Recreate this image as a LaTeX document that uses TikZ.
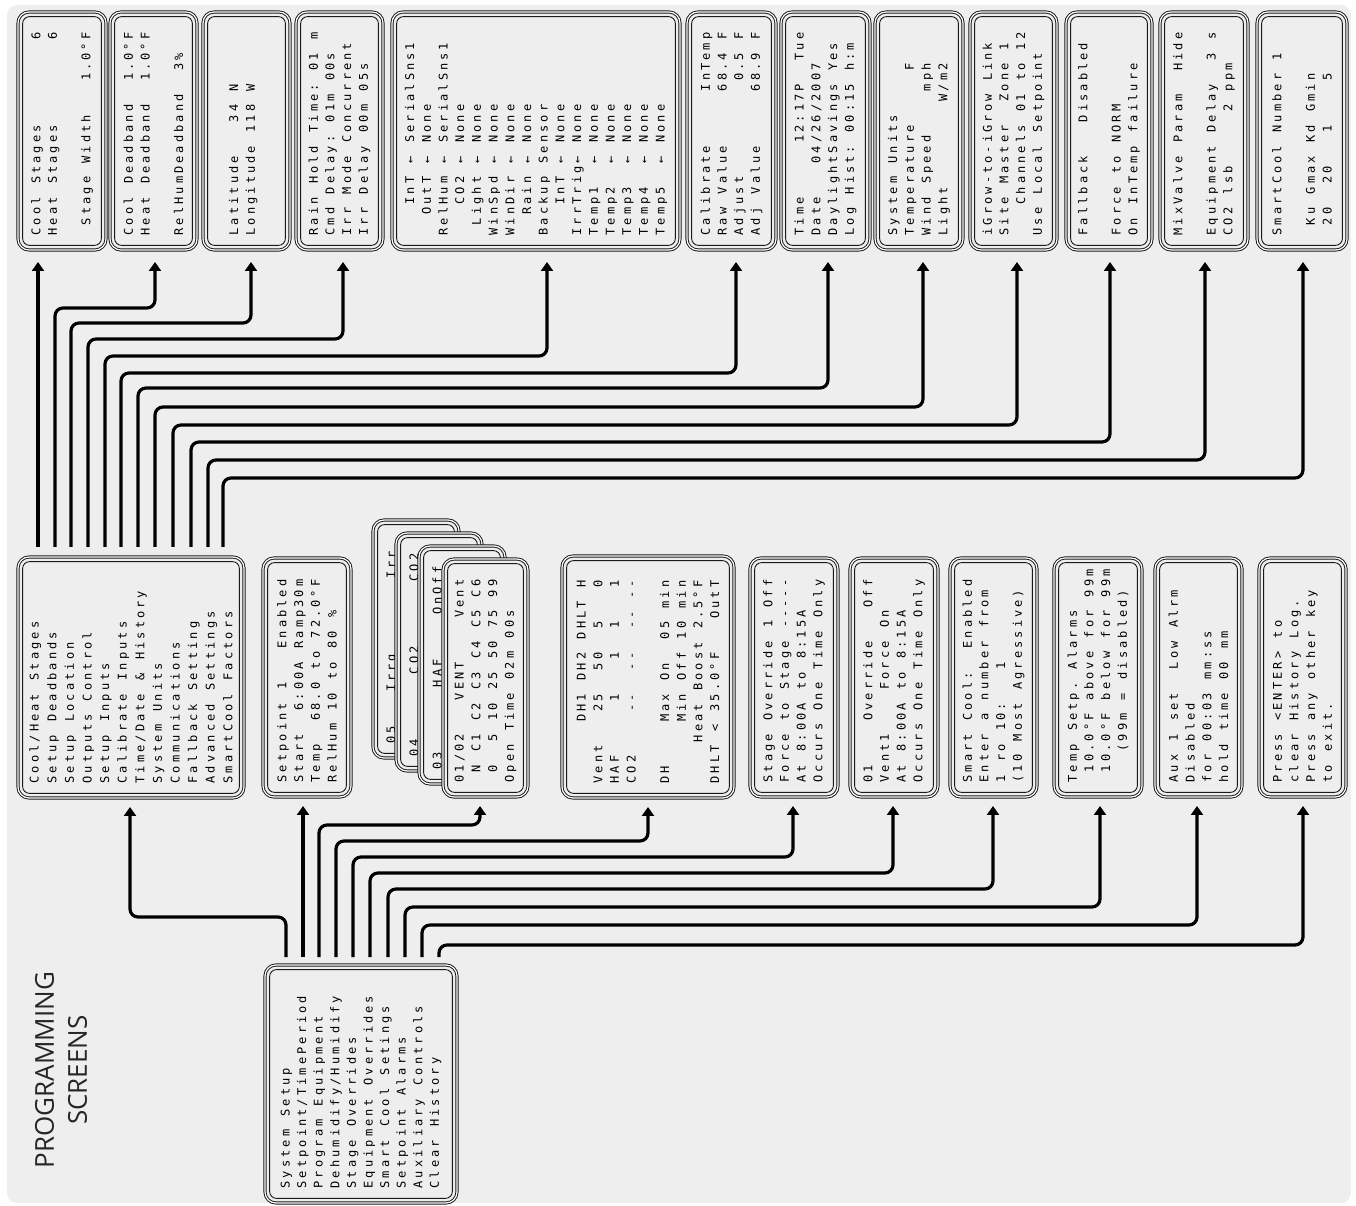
\documentclass[tikz,border=0pt]{standalone}
\usepackage{fontspec}
\usepackage{graphicx}
\usetikzlibrary{arrows.meta}
\newfontfamily\lcdfam{DejaVu Sans Mono}
\newfontfamily\titlefam{Open Sans}
\definecolor{bgc}{HTML}{EEEEEE}
\ExplSyntaxOn
\cs_new_protected:Npn \lcdline #1
  {
    \leavevmode
    \str_map_inline:nn {#1}
      {
        \str_if_eq:nnTF {##1} {_}
          { \hbox_to_wd:nn {10.3pt} { } }
          { \hbox_to_wd:nn {10.3pt} { \hfil ##1 \hfil } }
      }
  }
\ExplSyntaxOff
\newcommand\lcdpct{\hbox to 10.3pt{\hfil\%\hfil}}
\newcommand\lcdblank{\mbox{}}
\def\lcdbase{16.7pt}
\newcommand\lcdfont{\lcdfam\fontsize{12pt}{\lcdbase}\selectfont}
\newcommand\scrbox[6]{%
  \pgfmathsetmacro\sbw{#4-#2}%
  \pgfmathsetmacro\sbh{#5-#3}%
  \pgfmathsetmacro\sbx{(#2+#4)/2}%
  \pgfmathsetmacro\sby{1205-(#3+#5)/2}%
  \pgfmathsetmacro\sbt{#5-#3-26}%
  \node[lcdbox, minimum width=\sbw pt, minimum height=\sbh pt] (#1) at (\sbx,\sby)
    {\rotatebox{90}{\begin{minipage}{\sbt pt}\lcdfont\raggedright #6\end{minipage}}};
  \draw[lcdin] ([shift={(4.6pt,4.6pt)}]#1.south west) rectangle ([shift={(-4.6pt,-4.6pt)}]#1.north east);
}
\tikzset{
  lcdbox/.style={draw=black!90, line width=0.95pt, double=white, double distance=1.2pt,
    rounded corners=11pt, fill=bgc, inner sep=0pt, outer sep=0pt},
  lcdin/.style={draw=black!90, line width=0.9pt, rounded corners=7pt},
  conn/.style={line width=3.2pt, rounded corners=8pt, -{Triangle[width=12pt,length=9pt]}},
  topc/.style={conn, shorten <=10pt, shorten >=12pt},
  botc/.style={conn, shorten <=8pt, shorten >=9pt},
}
\begin{document}
\begin{tikzpicture}[x=1pt,y=1pt]
\useasboundingbox (0,0) rectangle (1356,1205);
\fill[bgc, rounded corners=10pt] (7,2) rectangle (1351,1200);

% ---------- top row ----------
\scrbox{t1}{18}{12}{106}{250}{\lcdline{Cool_Stages________6}\\\lcdline{Heat_Stages________6}\\\lcdblank\\\lcdline{_Stage_Width___1.0°F}}
\scrbox{t2}{110}{12}{197}{250}{\lcdline{Cool_Deadband__1.0°F}\\\lcdline{Heat_Deadband__1.0°F}\\\lcdblank\\\lcdline{RelHumDeadband__3}\lcdpct}
\scrbox{t3}{203}{12}{290}{250}{\lcdblank\\\lcdline{Latitude___34_N}\\\lcdline{Longitude_118_W}\\\lcdblank}
\scrbox{t4}{296}{12}{383}{250}{\lcdline{Rain_Hold_Time:_01_m}\\\lcdline{Cmd_Delay:_01m_00s}\\\lcdline{Irr_Mode_Concurrent}\\\lcdline{Irr_Delay_00m_05s}}
\scrbox{t5}{392}{12}{680}{250}{\lcdline{___InT_←_SerialSns1}\\\lcdline{__OutT_←_None}\\\lcdline{RelHum_←_SerialSns1}\\\lcdline{___CO2_←_None}\\\lcdline{_Light_←_None}\\\lcdline{WinSpd_←_None}\\\lcdline{WinDir_←_None}\\\lcdline{__Rain_←_None}\\\lcdline{Backup_Sensor}\\\lcdline{___InT_←_None}\\\lcdline{IrrTrig←_None}\\\lcdline{Temp1__←_None}\\\lcdline{Temp2__←_None}\\\lcdline{Temp3__←_None}\\\lcdline{Temp4__←_None}\\\lcdline{Temp5__←_None}}
\scrbox{t6}{687}{12}{776}{250}{\lcdline{Calibrate_____InTemp}\\\lcdline{Raw_Value_____68.4_F}\\\lcdline{Adjust_________0.5_F}\\\lcdline{Adj_Value_____68.9_F}}
\scrbox{t7}{781}{12}{870}{250}{\lcdline{Time_____12:17P__Tue}\\\lcdline{Date___04/26/2007}\\\lcdline{DaylightSavings_Yes}\\\lcdline{Log_Hist:_00:15_h:m}}
\scrbox{t8}{875}{12}{963}{250}{\lcdline{System_Units}\\\lcdline{Temperature_____F}\\\lcdline{Wind_Speed____mph}\\\lcdline{Light________W/m2}}
\scrbox{t9}{970}{12}{1057}{250}{\lcdline{iGrow-to-iGrow_Link}\\\lcdline{Site_Master__Zone_1}\\\lcdline{___Channels_01_to_12}\\\lcdline{Use_Local_Setpoint}}
\scrbox{t10}{1066}{12}{1152}{250}{\lcdline{Fallback___Disabled}\\\lcdblank\\\lcdline{Force_to_NORM}\\\lcdline{On_InTemp_failure}}
\scrbox{t11}{1160}{12}{1248}{250}{\lcdline{MixValve_Param__Hide}\\\lcdblank\\\lcdline{Equipment_Delay__3_s}\\\lcdline{CO2_lsb_____2_ppm}}
\scrbox{t12}{1257}{12}{1347}{250}{\lcdline{SmartCool_Number_1}\\\lcdblank\\\lcdline{_Ku_Gmax_Kd_Gmin}\\\lcdline{_20__20___1____5}}

% ---------- middle row ----------
\def\lcdbase{17.6pt}
\scrbox{m1}{18}{557}{244}{798}{\lcdline{Cool/Heat_Stages}\\\lcdline{Setup_Deadbands}\\\lcdline{Setup_Location}\\\lcdline{Outputs_Control}\\\lcdline{Setup_Inputs}\\\lcdline{Calibrate_Inputs}\\\lcdline{Time/Date_&_History}\\\lcdline{System_Units}\\\lcdline{Communications}\\\lcdline{Fallback_Setting}\\\lcdline{Advanced_Settings}\\\lcdline{SmartCool_Factors}}
\def\lcdbase{16.7pt}
\scrbox{s2}{263}{558}{351}{797}{\lcdline{Setpoint_1___Enabled}\\\lcdline{Start__6:00A_Ramp30m}\\\lcdline{Temp__68.0_to_72.0°F}\\\lcdline{RelHum_10_to_80_}\lcdpct}
\scrbox{k5}{373}{520}{459}{758}{\lcdline{05___Irrg_______Irr}\\\lcdblank\\\lcdblank\\\lcdblank}
\scrbox{k4}{396}{533}{482}{771}{\lcdline{04______CO2______CO2}\\\lcdblank\\\lcdblank\\\lcdblank}
\scrbox{k3}{419}{546}{505}{784}{\lcdline{03______HAF____OnOff}\\\lcdblank\\\lcdblank\\\lcdblank}
\scrbox{k1}{443}{559}{528}{797}{\lcdline{01/02___VENT____Vent}\\\lcdline{_N_C1_C2_C3_C4_C5_C6}\\\lcdline{_0__5_10_25_50_75_99}\\\lcdline{Open_Time_02m_00s}}
\scrbox{dh}{562}{556}{734}{798}{\lcdline{______DH1_DH2_DHLT_H}\\\lcdline{Vent___25__50__5___0}\\\lcdline{HAF_____1___1__1___1}\\\lcdline{CO2____--__--__--_--}\\\lcdblank\\\lcdline{DH____Max_On__05_min}\\\lcdline{______Min_Off_10_min}\\\lcdline{____Heat_Boost_2.5°F}\\\lcdline{DHLT_<_35.0°F___OutT}}
\scrbox{so}{750}{558}{838}{797}{\lcdline{Stage_Override_1_Off}\\\lcdline{Force_to_Stage_-----}\\\lcdline{At_8:00A_to_8:15A}\\\lcdline{Occurs_One_Time_Only}}
\scrbox{eo}{850}{558}{938}{797}{\lcdline{01____Override___Off}\\\lcdline{Vent1____Force_On}\\\lcdline{At_8:00A_to_8:15A}\\\lcdline{Occurs_One_Time_Only}}
\scrbox{sc}{950}{558}{1037}{797}{\lcdline{Smart_Cool:__Enabled}\\\lcdline{Enter_a_number_from}\\\lcdline{1_ro_10:___1}\\\lcdline{(10_Most_Agressive)}}
\scrbox{ta}{1054}{558}{1142}{797}{\lcdline{Temp_Setp._Alarms}\\\lcdline{_10.0°F_above_for_99m}\\\lcdline{_10.0°F_below_for_99m}\\\lcdline{___(99m_=_disabled)}}
\scrbox{ax}{1155}{558}{1242}{797}{\lcdline{Aux_1_set__Low_Alrm}\\\lcdline{Disabled}\\\lcdline{for_00:03_mm:ss}\\\lcdline{hold_time_00_mm}}
\scrbox{ch}{1259}{558}{1346}{797}{\lcdline{Press_<ENTER>_to}\\\lcdline{clear_History_Log.}\\\lcdline{Press_any_other_key}\\\lcdline{to_exit.}}

% ---------- bottom menu ----------
\def\lcdbase{16.6pt}
\scrbox{bm}{265}{965}{457}{1203}{\lcdline{System_Setup}\\\lcdline{Setpoint/TimePeriod}\\\lcdline{Program_Equipment}\\\lcdline{Dehumidify/Humidify}\\\lcdline{Stage_Overrides}\\\lcdline{Equipment_Overrides}\\\lcdline{Smart_Cool_Setings}\\\lcdline{Setpoint_Alarms}\\\lcdline{Auxiliary_Controls}\\\lcdline{Clear_History}}

% ---------- title ----------
\node[font=\titlefam\fontsize{26pt}{33pt}\selectfont, text=black!85, rotate=90, align=center] (title) at (61,135) {PROGRAMMING\\SCREENS};

% ---------- connectors: system setup menu -> screens ----------
\draw[topc] ([xshift=20pt]m1.north west) -- ([xshift=20pt]t1.south west);
\draw[topc] ([xshift=37pt]m1.north west) -- ++(0,249) -| ([xshift=1.5pt]t2.south);
\draw[topc] ([xshift=53pt]m1.north west) -- ++(0,234) -| ([xshift=4.5pt]t3.south);
\draw[topc] ([xshift=70pt]m1.north west) -- ++(0,218) -| ([xshift=3.5pt]t4.south);
\draw[topc] ([xshift=87pt]m1.north west) -- ++(0,201) -| ([xshift=11pt]t5.south);
\draw[topc] ([xshift=103pt]m1.north west) -- ++(0,184) -| ([xshift=4.5pt]t6.south);
\draw[topc] ([xshift=120pt]m1.north west) -- ++(0,169) -| ([xshift=2.5pt]t7.south);
\draw[topc] ([xshift=137pt]m1.north west) -- ++(0,150) -| ([xshift=4pt]t8.south);
\draw[topc] ([xshift=155pt]m1.north west) -- ++(0,132) -| ([xshift=3.5pt]t9.south);
\draw[topc] ([xshift=173pt]m1.north west) -- ++(0,115) -| ([xshift=1pt]t10.south);
\draw[topc] ([xshift=190pt]m1.north west) -- ++(0,97) -| ([xshift=1pt]t11.south);
\draw[topc] ([xshift=205pt]m1.north west) -- ++(0,79) -| ([xshift=1pt]t12.south);

% ---------- connectors: main menu -> screens ----------
\draw[botc] ([xshift=21pt]bm.north west) -- ++(0,48) -| ([xshift=-1pt]m1.south);
\draw[botc] ([xshift=38pt]bm.north west) -- ++(0,168);
\draw[botc] ([xshift=54pt]bm.north west) -- ++(0,140) -| ([xshift=-5.5pt]k1.south);
\draw[botc] ([xshift=71pt]bm.north west) -- ++(0,124) -| (dh.south);
\draw[botc] ([xshift=88pt]bm.north west) -- ++(0,108) -| ([xshift=-1pt]so.south);
\draw[botc] ([xshift=105pt]bm.north west) -- ++(0,92) -| ([xshift=-1pt]eo.south);
\draw[botc] ([xshift=123pt]bm.north west) -- ++(0,76) -| ([xshift=-0.5pt]sc.south);
\draw[botc] ([xshift=140pt]bm.north west) -- ++(0,58) -| ([xshift=2pt]ta.south);
\draw[botc] ([xshift=157pt]bm.north west) -- ++(0,40) -| ([xshift=-1.5pt]ax.south);
\draw[botc] ([xshift=174pt]bm.north west) -- ++(0,20) -| ([xshift=0.5pt]ch.south);
\end{tikzpicture}
\end{document}
